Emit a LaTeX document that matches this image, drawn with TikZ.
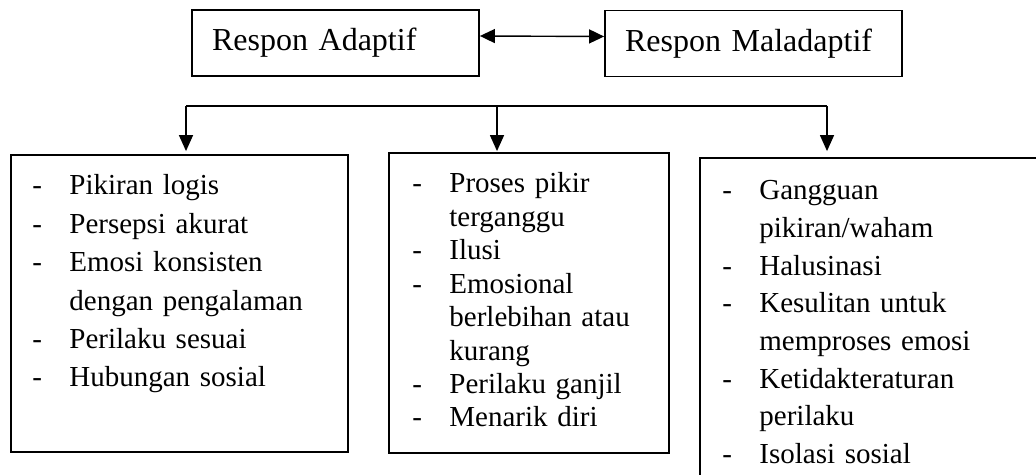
\documentclass[tikz,border=0pt]{standalone}
\usepackage{fontspec}
\setmainfont{Liberation Serif}
\usetikzlibrary{arrows.meta}

\newcommand{\litem}[1]{\makebox[18.5pt][l]{-}#1}
\newcommand{\lcont}[1]{\hspace*{18.5pt}#1}

\tikzset{
  topbox/.style={draw, line width=0.9pt, minimum height=33pt, inner xsep=10pt, inner ysep=0pt,
    font=\fontsize{16}{19}\selectfont, align=left},
  listbox/.style={draw, line width=0.9pt, inner sep=0pt},
  listtext/.style={anchor=base west, inner sep=0pt, text width=170pt, align=left},
  tip/.style={-{Triangle[length=8pt,width=7pt]}, line width=0.7pt}
}

\begin{document}
\begin{tikzpicture}[x=0.5pt,y=-0.5pt]
\useasboundingbox (0,0) rectangle (1036,475);
\clip (0,0) rectangle (1036,475);

% top row
\node[topbox, text width=123.5pt] (adapt) at (335.5,43) {Respon Adaptif};
\node[topbox, text width=128.5pt] (malad) at (753.5,43.5) {Respon Maladaptif};
\draw[{Triangle[length=7.5pt,width=7pt]}-{Triangle[length=7.5pt,width=7pt]}, line width=0.7pt]
  ([yshift=3.5pt]adapt.east) -- ([yshift=3.5pt]malad.west);

% list boxes
\node[listbox, minimum width=168.5pt, minimum height=148.5pt] (box1) at (179.5,303.5) {};
\node[listbox, minimum width=140pt, minimum height=150pt] (box2) at (529,303) {};
\node[listbox, minimum width=172.5pt, minimum height=166pt] (box3) at (872.5,324) {};

% branches
\coordinate (j1) at (186,106);
\coordinate (j2) at (497,106);
\coordinate (j3) at (827,106);
\draw[line width=0.7pt] (j1) -- (j3);
\draw[tip, shorten >=1.5pt] (j1) -- (j1 |- box1.north);
\draw[tip, shorten >=0.5pt] (j2) -- (j2 |- box2.north);
\draw[tip, shorten >=3pt] (j3) -- (j3 |- box3.north);

% list texts
\node[listtext, font=\fontsize{14.5}{19.2}\selectfont] (list1) at (32,195)
  {\litem{Pikiran logis}\\ \litem{Persepsi akurat}\\ \litem{Emosi konsisten}\\
   \lcont{dengan pengalaman}\\ \litem{Perilaku sesuai}\\ \litem{Hubungan sosial}};
\node[listtext, font=\fontsize{14.5}{16.7}\selectfont] (list2) at (412,193)
  {\litem{Proses pikir}\\ \lcont{terganggu}\\ \litem{Ilusi}\\ \litem{Emosional}\\
   \lcont{berlebihan atau}\\ \lcont{kurang}\\ \litem{Perilaku ganjil}\\ \litem{Menarik diri}};
\node[listtext, font=\fontsize{14.5}{18.8}\selectfont] (list3) at (722,200)
  {\litem{Gangguan}\\ \lcont{pikiran/waham}\\ \litem{Halusinasi}\\ \litem{Kesulitan untuk}\\
   \lcont{memproses emosi}\\ \litem{Ketidakteraturan}\\ \lcont{perilaku}\\ \litem{Isolasi sosial}};
\end{tikzpicture}
\end{document}
